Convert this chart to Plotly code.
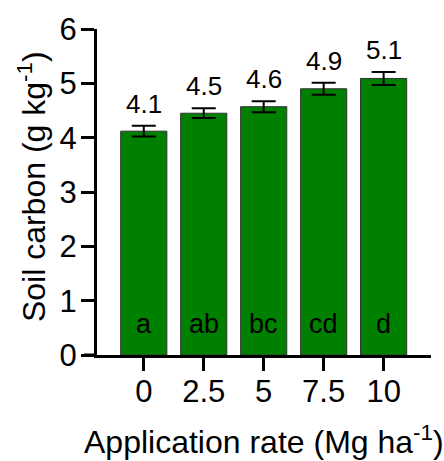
import plotly.graph_objects as go

categories = ["0", "2.5", "5", "7.5", "10"]
means = [4.12, 4.45, 4.57, 4.90, 5.09]
errors = [0.10, 0.09, 0.10, 0.11, 0.12]
value_labels = ["4.1", "4.5", "4.6", "4.9", "5.1"]
letters = ["a", "ab", "bc", "cd", "d"]

FONT = "Arial, Liberation Sans, sans-serif"
W, H = 444, 461
ML, MR, MT, MB = 97, 13, 23, 106
PW = W - ML - MR
PH = H - MT - MB

xs = list(range(len(categories)))

fig = go.Figure()
fig.add_trace(go.Bar(
    x=xs, y=means, width=0.77,
    marker=dict(color="rgb(0,128,0)", line=dict(color="#333333", width=1)),
    error_y=dict(type="data", array=errors, visible=True, color="black",
                 thickness=2, width=12),
    hoverinfo="skip",
))

annotations = []
for i, (m, e, lab, let) in enumerate(zip(means, errors, value_labels, letters)):
    annotations.append(dict(x=i, y=m + e, xref="x", yref="y", text=lab,
                            showarrow=False, yanchor="middle", yshift=22,
                            font=dict(family=FONT, size=26, color="black")))
    annotations.append(dict(x=i, y=0.57, xref="x", yref="y", text=let,
                            showarrow=False, yanchor="middle",
                            font=dict(family=FONT, size=27, color="black")))

annotations.append(dict(x=-(ML - 32) / PW, y=(355 - 184) / PH, xref="paper", yref="paper",
                        text="Soil carbon (g kg<sup>-1</sup>)", textangle=-90,
                        showarrow=False, xanchor="center", yanchor="middle",
                        font=dict(family=FONT, size=32, color="black")))
annotations.append(dict(x=(264 - ML) / PW, y=-(442 - 355) / PH, xref="paper", yref="paper",
                        text="Application rate (Mg ha<sup>-1</sup>)",
                        showarrow=False, xanchor="center", yanchor="middle",
                        font=dict(family=FONT, size=32, color="black")))

fig.update_layout(
    width=W, height=H,
    margin=dict(l=ML, r=MR, t=MT, b=MB),
    plot_bgcolor="white", paper_bgcolor="white",
    showlegend=False,
    annotations=annotations,
    shapes=[dict(type="line", xref="paper", yref="paper",
                 x0=-13 / PW, x1=0, y0=0, y1=0,
                 line=dict(color="black", width=3))],
    xaxis=dict(range=[-0.78, 4.79], tickmode="array", tickvals=xs, ticktext=categories,
               showline=True, linecolor="black", linewidth=3,
               ticks="outside", ticklen=13, tickwidth=3, tickcolor="black",
               ticklabelstandoff=-6,
               showgrid=False, zeroline=False,
               tickfont=dict(family=FONT, size=31, color="black")),
    yaxis=dict(range=[0, 6], tickmode="array", tickvals=[0, 1, 2, 3, 4, 5, 6],
               showline=True, linecolor="black", linewidth=3,
               ticks="outside", ticklen=13, tickwidth=3, tickcolor="black",
               ticklabelstandoff=-2,
               showgrid=False, zeroline=False,
               tickfont=dict(family=FONT, size=31, color="black")),
)

fig.write_html("out.html")
